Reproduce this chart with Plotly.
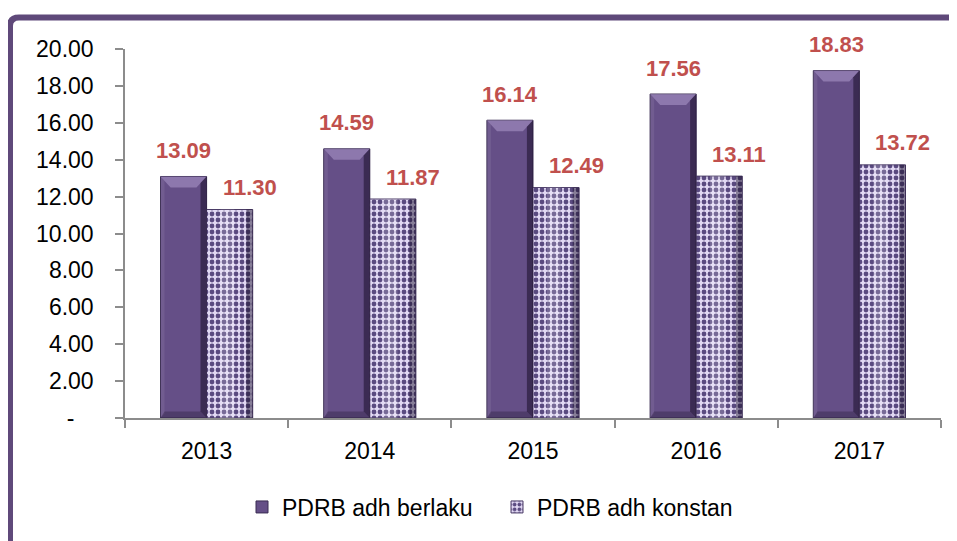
import plotly.graph_objects as go

years = ["2013", "2014", "2015", "2016", "2017"]
berlaku = [13.09, 14.59, 16.14, 17.56, 18.83]
konstan = [11.30, 11.87, 12.49, 13.11, 13.72]
ytick_vals = [0, 2, 4, 6, 8, 10, 12, 14, 16, 18, 20]
ytick_text = ["-\u00a0\u00a0\u00a0", "2.00", "4.00", "6.00", "8.00", "10.00",
              "12.00", "14.00", "16.00", "18.00", "20.00"]
names = ["PDRB adh berlaku", "PDRB adh konstan"]

FONT = "Liberation Sans"
PURPLE = "#5F497A"
LABEL_RED = "#C0504D"
BARGAP = 0.435
BW = (1 - BARGAP) / 2          # width of one bar in category units
YMAX = 20

fig = go.Figure()
fig.add_trace(go.Bar(
    x=years, y=berlaku, name=names[0],
    marker=dict(color="#654F87", line=dict(color="#3A2C52", width=1)),
))
fig.add_trace(go.Bar(
    x=years, y=konstan, name=names[1],
    marker=dict(color="#D6CCEC", line=dict(color="#4A3B66", width=1),
                pattern=dict(shape=".", fgcolor="#5A4A80", bgcolor="#E2D9F4",
                             size=6, solidity=0.5, fillmode="replace")),
))

# page body adds an 8px offset; target-pixel coords of the plot area
OFF = 8
L, T, W, H = 125, 49, 816, 369
def px(x):
    return (x - L) / W
def py(y):
    return (T + H - y) / H
UNIT_PER_PX = YMAX / H

shapes = []
# bevel shading on bars (derived from data positions)
for i, v in enumerate(berlaku):
    x0, x1 = i - BW, i
    dx = BW * 0.22
    dy = 11 * UNIT_PER_PX
    shapes.append(dict(type="path", xref="x", yref="y", layer="above", line=dict(width=0),
                       fillcolor="rgba(190,170,220,0.45)",
                       path=f"M {x0},{v} L {x1},{v} L {x1 - dx},{v - dy} L {x0 + dx},{v - dy} Z"))
    shapes.append(dict(type="path", xref="x", yref="y", layer="above", line=dict(width=0),
                       fillcolor="rgba(25,15,40,0.55)",
                       path=f"M {x1},{v} L {x1},0 L {x1 - dx*0.6},{dy*0.6} L {x1 - dx*0.6},{v - dy*0.6} Z"))
    shapes.append(dict(type="path", xref="x", yref="y", layer="above", line=dict(width=0),
                       fillcolor="rgba(255,255,255,0.08)",
                       path=f"M {x0},{v} L {x0 + dx*0.4},{v - dy*0.4} L {x0 + dx*0.4},{dy*0.4} L {x0},0 Z"))
    shapes.append(dict(type="path", xref="x", yref="y", layer="above", line=dict(width=0),
                       fillcolor="rgba(25,15,40,0.3)",
                       path=f"M {x0},0 L {x1},0 L {x1 - dx*0.6},{dy*0.6} L {x0 + dx*0.4},{dy*0.6} Z"))
for i, v in enumerate(konstan):
    x0, x1 = i, i + BW
    dx = BW * 0.14
    shapes.append(dict(type="rect", xref="x", yref="y", layer="above", line=dict(width=0),
                       fillcolor="rgba(25,15,40,0.45)", x0=x1 - dx, x1=x1, y0=0, y1=v))
    shapes.append(dict(type="rect", xref="x", yref="y", layer="above", line=dict(width=0),
                       fillcolor="rgba(255,255,255,0.18)", x0=x0 + BW * 0.3, x1=x0 + BW * 0.6, y0=0, y1=v))

frame_path = (f"M {px(10)},{py(560)} L {px(10)},{py(26)} "
              f"Q {px(10)},{py(17.5)} {px(19)},{py(17.5)} L {px(980)},{py(17.5)}")
shapes.append(dict(type="path", xref="paper", yref="paper", path=frame_path,
                   line=dict(color=PURPLE, width=6), layer="above"))

annotations = []
for i, v in enumerate(berlaku):
    annotations.append(dict(x=i, y=v, xref="x", yref="y", text=f"{v:.2f}",
                            showarrow=False, xshift=-23, yshift=26,
                            font=dict(family=FONT, size=22, color=LABEL_RED, weight="bold")))
for i, v in enumerate(konstan):
    annotations.append(dict(x=i, y=v, xref="x", yref="y", text=f"{v:.2f}",
                            showarrow=False, xshift=43, yshift=22,
                            font=dict(family=FONT, size=22, color=LABEL_RED, weight="bold")))

FIG_W, FIG_H = 957, 541
fig.update_layout(
    width=FIG_W, height=FIG_H,
    margin=dict(l=L - OFF, r=FIG_W - (L - OFF) - W, t=T - OFF, b=FIG_H - (T - OFF) - H),
    paper_bgcolor="white", plot_bgcolor="white",
    barmode="group", bargap=BARGAP, bargroupgap=0,
    font=dict(family=FONT, size=23, color="black"),
    xaxis=dict(type="category", range=[-0.5, len(years) - 0.5],
               showline=True, linecolor="#8C8C8C", linewidth=1.5,
               ticks="outside", ticklen=8, tickcolor="#8C8C8C", tickwidth=1.5,
               tickson="boundaries", ticklabelstandoff=12,
               tickfont=dict(family=FONT, size=23, color="black"),
               showgrid=False, zeroline=False, fixedrange=True),
    yaxis=dict(range=[0, YMAX], showline=True, linecolor="#8C8C8C", linewidth=1.5,
               ticks="outside", ticklen=8, tickcolor="#8C8C8C", tickwidth=1.5,
               tickvals=ytick_vals, ticktext=ytick_text, ticklabelstandoff=17,
               tickfont=dict(family=FONT, size=23, color="black"),
               showgrid=False, zeroline=False, fixedrange=True),
    legend=dict(orientation="h", x=px(242), xanchor="left", y=py(507), yanchor="middle",
                font=dict(family=FONT, size=23, color="black"),
                itemwidth=30, entrywidth=210, bgcolor="rgba(0,0,0,0)"),
    annotations=annotations,
    shapes=shapes,
    showlegend=True,
)

fig.write_html("out.html")
